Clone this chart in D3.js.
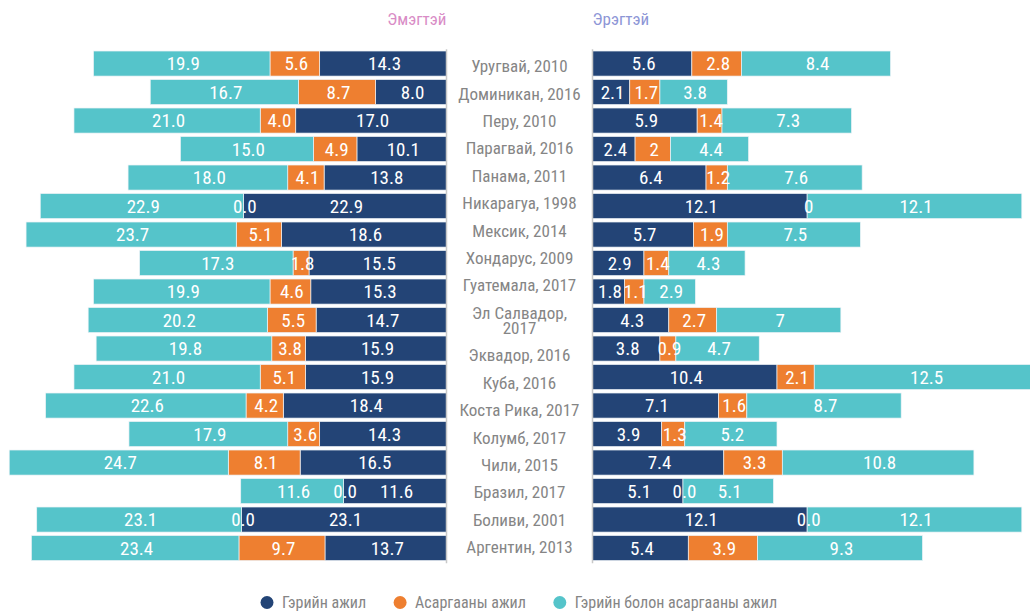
<!DOCTYPE html>
<html>
<head>
<meta charset="utf-8">
<script src="https://cdn.jsdelivr.net/npm/d3@7"></script>
<style>
  html, body { margin: 0; padding: 0; background: #fff; }
  svg { display: block; }
  text { font-family: "Liberation Sans Narrow", "Arial Narrow", "Roboto Condensed", "DejaVu Sans Condensed", sans-serif; }
</style>
</head>
<body>
<svg id="chart" width="1030" height="612"></svg>
<script>
const categories = ["Уругвай, 2010","Доминикан, 2016","Перу, 2010","Парагвай, 2016","Панама, 2011","Никарагуа, 1998","Мексик, 2014","Хондарус, 2009","Гуатемала, 2017","Эл Салвадор, 2017","Эквадор, 2016","Куба, 2016","Коста Рика, 2017","Колумб, 2017","Чили, 2015","Бразил, 2017","Боливи, 2001","Аргентин, 2013"];

const seriesNames = ["Гэрийн ажил", "Асаргааны ажил", "Гэрийн болон асаргааны ажил"];
const seriesColors = ["#234476", "#ee7f30", "#55c4ca"];

// Women (Эмэгтэй)
const womenDomestic = [14.3, 8.0, 17.0, 10.1, 13.8, 22.9, 18.6, 15.5, 15.3, 14.7, 15.9, 15.9, 18.4, 14.3, 16.5, 11.6, 23.1, 13.7];
const womenCare     = [5.6, 8.7, 4.0, 4.9, 4.1, 0.0, 5.1, 1.8, 4.6, 5.5, 3.8, 5.1, 4.2, 3.6, 8.1, 0.0, 0.0, 9.7];
const womenBoth     = [19.9, 16.7, 21.0, 15.0, 18.0, 22.9, 23.7, 17.3, 19.9, 20.2, 19.8, 21.0, 22.6, 17.9, 24.7, 11.6, 23.1, 23.4];

// Men (Эрэгтэй) — kept as printed
const menDomestic = ["5.6", "2.1", "5.9", "2.4", "6.4", "12.1", "5.7", "2.9", "1.8", "4.3", "3.8", "10.4", "7.1", "3.9", "7.4", "5.1", "12.1", "5.4"];
const menCare     = ["2.8", "1.7", "1.4", "2", "1.2", "0", "1.9", "1.4", "1.1", "2.7", "0.9", "2.1", "1.6", "1.3", "3.3", "0.0", "0.0", "3.9"];
const menBoth     = ["8.4", "3.8", "7.3", "4.4", "7.6", "12.1", "7.5", "4.3", "2.9", "7", "4.7", "12.5", "8.7", "5.2", "10.8", "5.1", "12.1", "9.3"];

const titleWomen = "Эмэгтэй";
const titleMen = "Эрэгтэй";

const svg = d3.select("#chart");

const axisL = 446.5, axisR = 592.5;
const xL = d3.scaleLinear().domain([0, 50]).range([axisL, axisL - 443.5]);
const xR = d3.scaleLinear().domain([0, 25]).range([axisR, axisR + 443.5]);
const y = d3.scaleBand().domain(categories).range([49.3, 562.3]).paddingInner(0.12).paddingOuter(0.06);

const fmt1 = d3.format(".1f");

function buildRows(a, b, c, labelFn) {
  return categories.map((cat, i) => {
    const vals = [a[i], b[i], c[i]];
    let acc = 0;
    return vals.map((v, k) => {
      const n = +v;
      const seg = { cat, k, x0: acc, x1: acc + n, label: labelFn(v) };
      acc += n;
      return seg;
    });
  }).flat();
}

const womenSegs = buildRows(womenDomestic, womenCare, womenBoth, v => fmt1(v));
const menSegs = buildRows(menDomestic, menCare, menBoth, v => v);

const barLayer = svg.append("g");
const valLayer = svg.append("g");

function drawPanel(segs, x) {
  barLayer.append("g").selectAll("rect").data(segs.filter(d => d.x1 > d.x0)).join("rect")
    .attr("x", d => Math.min(x(d.x0), x(d.x1)))
    .attr("width", d => Math.abs(x(d.x1) - x(d.x0)))
    .attr("y", d => y(d.cat))
    .attr("height", y.bandwidth())
    .attr("fill", d => seriesColors[d.k])
    .attr("stroke", "#eef3f7")
    .attr("stroke-width", 0.7);
  valLayer.append("g").selectAll("text").data(segs).join("text")
    .attr("x", d => (x(d.x0) + x(d.x1)) / 2 + 1.5)
    .attr("y", d => y(d.cat) + y.bandwidth() / 2)
    .attr("dy", "0.36em")
    .attr("text-anchor", "middle")
    .attr("fill", "#ffffff")
    .style("font-size", "19px")
    .text(d => d.label);
}

drawPanel(womenSegs, xL);
drawPanel(menSegs, xR);

// axis lines
[axisL, axisR].forEach(ax => {
  svg.append("line").attr("x1", ax).attr("x2", ax)
    .attr("y1", y.range()[0]).attr("y2", y.range()[1] + 1)
    .attr("stroke", "#c8c8c8").attr("stroke-width", 1.5);
});

// category labels: wrapped, distributed like a category axis
const labelX = 519.5;
const lineH = 15.2;
const labelLines = categories.map(c => c === "Эл Салвадор, 2017" ? ["Эл Салвадор,", "2017"] : [c]);
const labTop = 52.3, labBottom = 560.7;
const extra = d3.sum(labelLines, l => (l.length - 1) * lineH);
const slot = (labBottom - labTop - extra) / categories.length;
let cursor = labTop;
const labelPos = labelLines.map(lines => {
  const h = slot + (lines.length - 1) * lineH;
  const c = cursor + h / 2;
  cursor += h;
  return { lines, c };
});
const lg = svg.append("g");
labelPos.forEach(p => {
  const t = lg.append("text")
    .attr("x", labelX)
    .attr("text-anchor", "middle")
    .attr("fill", "#858585")
    .style("font-size", "17px");
  const off = -(p.lines.length - 1) * lineH / 2;
  p.lines.forEach((ln, i) => {
    t.append("tspan").attr("x", labelX).attr("y", p.c + off + i * lineH).attr("dy", "0.36em").text(ln);
  });
});

// panel titles
svg.append("text").attr("x", axisL).attr("y", 24.5).attr("text-anchor", "end")
  .attr("fill", "#d98cc6").style("font-size", "17px").text(titleWomen);
svg.append("text").attr("x", axisR).attr("y", 24.5).attr("text-anchor", "start")
  .attr("fill", "#8d96d6").style("font-size", "17px").text(titleMen);

// legend
const leg = svg.append("g");
let lx = 267;
seriesNames.forEach((name, i) => {
  leg.append("circle").attr("cx", lx).attr("cy", 602.5).attr("r", 6.5).attr("fill", seriesColors[i]);
  const t = leg.append("text").attr("x", lx + 15).attr("y", 602.5).attr("dy", "0.36em")
    .attr("fill", "#858585").style("font-size", "16px").text(name);
  lx = lx + 15 + t.node().getComputedTextLength() + 34;
});
</script>
</body>
</html>
